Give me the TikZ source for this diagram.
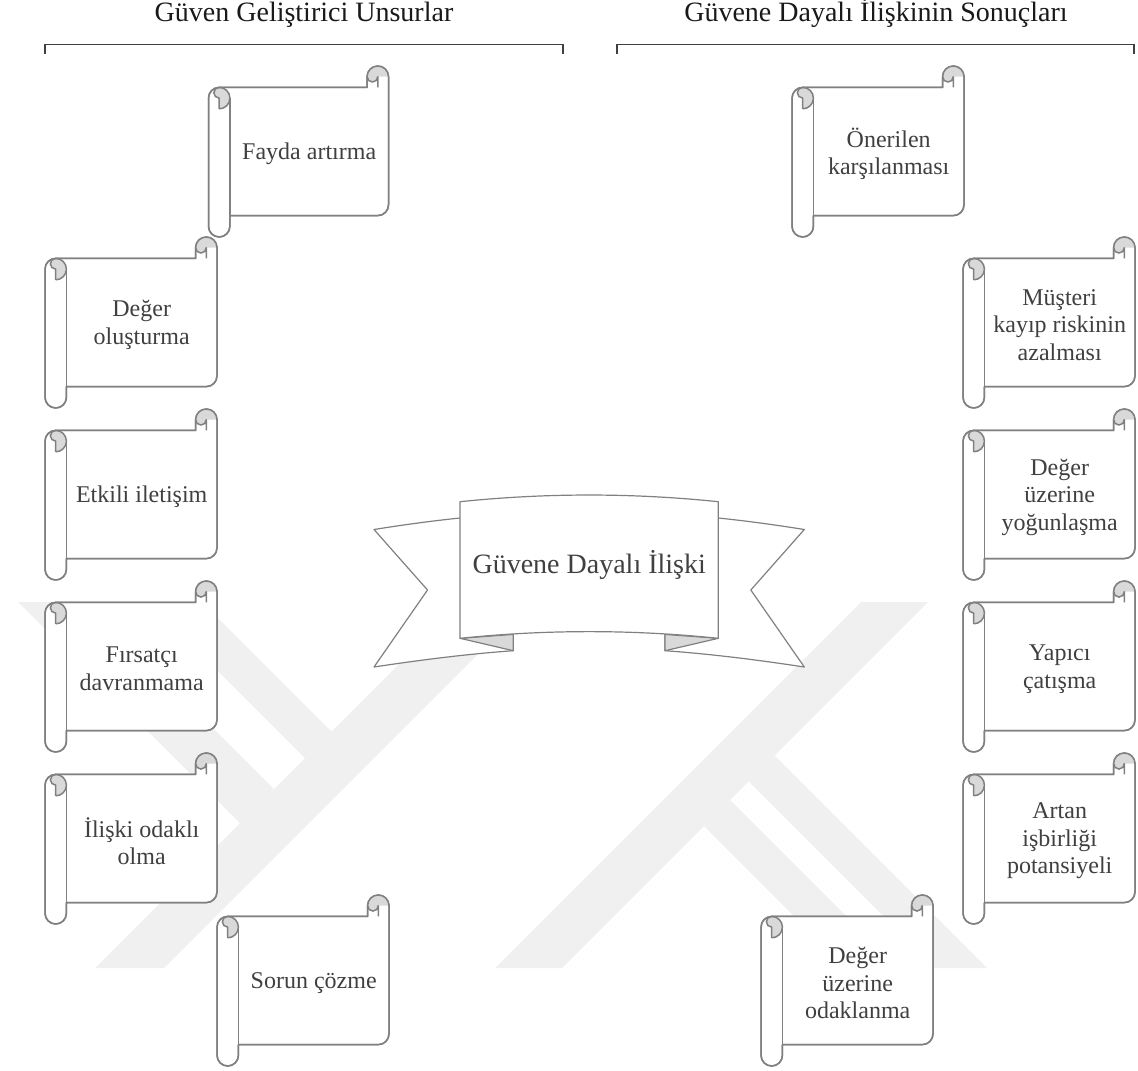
\documentclass[tikz,border=0pt]{standalone}
\usepackage{fontspec}
\setmainfont{Liberation Serif}
\definecolor{sline}{HTML}{808080}
\definecolor{rollgray}{HTML}{D9D9D9}
\definecolor{txtgray}{HTML}{404040}
\definecolor{wm}{HTML}{F0F0F0}
\definecolor{brk}{HTML}{404040}
\def\sW{172}
\def\scrollpath{(0,32.1) arc[start angle=180,end angle=270,radius=10.7] -- ({\sW-21.4},21.4) -- ({\sW-21.4},10.7) arc[start angle=180,end angle=360,radius=10.7] -- (\sW,138.9) arc[start angle=0,end angle=90,radius=10.7] -- (21.4,149.6) -- (21.4,160.3) arc[start angle=0,end angle=180,radius=10.7] -- cycle}
\newcommand{\scrl}[5][172]{%
\begin{scope}[shift={(#2,#3)}]
 \def\sW{#1}
 \filldraw[scrollline, fill=white] \scrollpath;
 \fill[rollgray] (10.7,42.8) -- (10.7,32.1) arc[start angle=90,end angle=270,radius=5.35] arc[start angle=270,end angle=450,radius=10.7] -- cycle;
 \fill[rollgray] ({\sW-10.7},10.7) arc[start angle=0,end angle=180,radius=5.35] arc[start angle=180,end angle=360,radius=10.7] -- cycle;
 \draw[scrollline] (10.7,42.8) -- (10.7,32.1) arc[start angle=90,end angle=270,radius=5.35];
 \draw[scrollline] (10.7,21.4) arc[start angle=270,end angle=450,radius=10.7];
 \draw[scrollline] (21.4,32.1) -- (21.4,149.6);
 \draw[scrollline] ({\sW-10.7},21.4) -- ({\sW-10.7},10.7) arc[start angle=0,end angle=180,radius=5.35];
 \draw[scrollline] \scrollpath;
 \node[scrolltext] (#4) at ({(\sW+21.4)/2},88) {#5};
\end{scope}}
\begin{document}
\begin{tikzpicture}[x=0.5pt,y=-0.5pt,
  scrollline/.style={draw=sline, line width=0.75pt, line join=round},
  scrolltext/.style={align=center, text=txtgray, inner sep=0pt, font=\fontsize{12}{13.8}\selectfont},
  headtext/.style={anchor=base, text=black!90, inner sep=0pt, font=\fontsize{14}{16}\selectfont},
  bracket/.style={draw=brk, line width=0.7pt},
  bannerline/.style={draw=sline, line width=0.6pt, line join=round},
  wmark/.style={fill=wm}]
\useasboundingbox (0,0) rectangle (1138,1070);
% watermark
\fill[wmark] (95,968) -- (164,968) -- (530,602) -- (461,602) -- cycle;
\fill[wmark] (495,968) -- (562,968) -- (928,602) -- (861,602) -- cycle;
\fill[wmark] (18,602) -- (87,602) -- (274,789) -- (240,823) -- cycle;
\fill[wmark] (149,602) -- (202,602) -- (331.5,731.5) -- (305,758) -- cycle;
\fill[wmark] (774.5,755.5) -- (987,968) -- (935,968) -- (748.5,781.5) -- cycle;
\fill[wmark] (730,800) -- (898,968) -- (846,968) -- (704,826) -- cycle;
% headers
\node[headtext] (h1) at (304,22) {Güven Geliştirici Unsurlar};
\node[headtext] (h2) at (876,22) {Güvene Dayalı İlişkinin Sonuçları};
\draw[bracket] (45,54) -- (45,44.5) -- (563,44.5) -- (563,54);
\draw[bracket] (617,54) -- (617,44.5) -- (1134,44.5) -- (1134,54);
% banner wings
\filldraw[bannerline, fill=white] (513.3,515) -- (460,518) .. controls (431,521) and (402,525) .. (374,529.5) -- (427.5,590) -- (374,667) .. controls (420,660) and (467,654) .. (513.3,650.7) -- cycle;
\filldraw[bannerline, fill=white] (665,515) -- (718.3,518) .. controls (747.3,521) and (776.3,525) .. (804.3,529.5) -- (750.8,590) -- (804.3,667) .. controls (758.3,660) and (711.3,654) .. (665,650.7) -- cycle;
\filldraw[bannerline, fill=rollgray] (460,638.3) -- (513.3,650.7) -- (513.3,634.4) -- cycle;
\filldraw[bannerline, fill=rollgray] (718.3,638.3) -- (665,650.7) -- (665,634.4) -- cycle;
% banner panel
\filldraw[bannerline, fill=white] (460,501.7) .. controls (546,492.8) and (632.3,492.8) .. (718.3,501.7) -- (718.3,638.3) .. controls (632.3,629.4) and (546,629.4) .. (460,638.3) -- cycle;
\node[headtext, text=txtgray] (center) at (589.2,573.5) {Güvene Dayalı İlişki};
% left scrolls
\scrl[180]{208.5}{66}{s1}{Fayda artırma}
\scrl{45}{237}{s2}{Değer\\oluşturma}
\scrl{45}{409}{s3}{Etkili iletişim}
\scrl{45}{581}{s4}{Fırsatçı\\davranmama}
\scrl{45}{753}{s5}{İlişki odaklı\\olma}
\scrl{217}{895}{s6}{Sorun çözme}
% right scrolls
\scrl{792}{66}{r1}{Önerilen\\karşılanması}
\scrl{963}{237}{r2}{Müşteri\\kayıp riskinin\\azalması}
\scrl{963}{409}{r3}{Değer\\üzerine\\yoğunlaşma}
\scrl{963}{581}{r4}{Yapıcı\\çatışma}
\scrl{963}{753}{r5}{Artan\\işbirliği\\potansiyeli}
\scrl{761}{895}{r6}{Değer\\üzerine\\odaklanma}
\end{tikzpicture}
\end{document}
